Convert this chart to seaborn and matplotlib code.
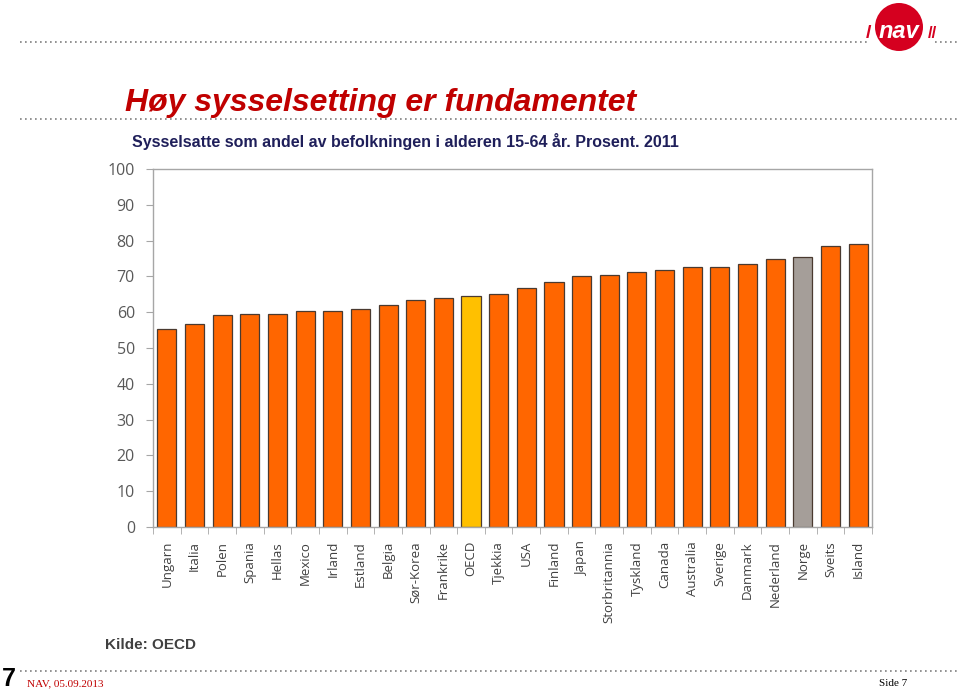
import matplotlib
matplotlib.use("Agg")
import matplotlib.pyplot as plt
import seaborn as sns
import pandas as pd
from matplotlib.patches import Circle
from matplotlib.lines import Line2D

countries = ["Ungarn", "Italia", "Polen", "Spania", "Hellas", "Mexico", "Irland",
             "Estland", "Belgia", "Sør-Korea", "Frankrike", "OECD", "Tjekkia", "USA",
             "Finland", "Japan", "Storbritannia", "Tyskland", "Canada", "Australia",
             "Sverige", "Danmark", "Nederland", "Norge", "Sveits", "Island"]
values = [55.3, 56.8, 59.2, 59.4, 59.5, 60.4, 60.4, 61.0, 62.0, 63.3, 64.0, 64.6,
          65.0, 66.7, 68.4, 70.2, 70.4, 71.2, 71.7, 72.5, 72.7, 73.4, 74.8, 75.4,
          78.6, 79.0]
yticks = [0, 10, 20, 30, 40, 50, 60, 70, 80, 90, 100]

ORANGE = "#FF6600"
colors = {c: ORANGE for c in countries}
colors["OECD"] = "#FFC000"
colors["Norge"] = "#A59E99"

df = pd.DataFrame({"land": countries, "verdi": values})

sns.set_style("white")
plt.rcParams["font.family"] = ["DejaVu Sans"]

fig = plt.figure(figsize=(9.6, 6.91), dpi=100)
ax = fig.add_axes([153/960, 1-527/691, (872-153)/960, (527-169)/691])

sns.barplot(data=df, x="land", y="verdi", hue="land", palette=colors, legend=False,
            width=0.69, edgecolor="#4A3A30", linewidth=0.9, ax=ax, saturation=1)

ax.set_ylim(0, 100)
ax.set_xlim(-0.5, len(countries) - 0.5)
ax.set_yticks(yticks)
ax.set_xlabel("")
ax.set_ylabel("")
for s in ax.spines.values():
    s.set_color("#A6A6A6")
    s.set_linewidth(1.0)
ax.tick_params(axis="y", which="both", left=True, length=5, color="#A6A6A6",
               labelsize=11.5, labelcolor="#595959", pad=8)
ax.set_xticks(range(len(countries)))
ax.set_xticklabels(countries, rotation=90, fontsize=9.5, color="#404040",
                   family=["Open Sans", "DejaVu Sans"], va="top")
ax.set_xticks([i + 0.5 for i in range(-1, len(countries))], minor=True)
ax.tick_params(axis="x", which="major", length=0, pad=10)
ax.tick_params(axis="x", which="minor", bottom=True, length=5, color="#A6A6A6")
for lbl in ax.get_yticklabels():
    lbl.set_family(["Open Sans", "DejaVu Sans"])

# Slide decorations
def dotted(y, x0, x1):
    fig.add_artist(Line2D([x0/960, x1/960], [1-y/691, 1-y/691], color="#7F7F7F",
                          linestyle=(0, (1, 2)), linewidth=1.2))

dotted(42, 20, 868)
dotted(42, 935, 960)
dotted(119, 20, 960)
dotted(671, 20, 960)

# logo
fig.add_artist(Circle((899, 691-27), 24, transform=None, facecolor="#D5001F",
                      edgecolor="none"))
fig.text(899/960, 1-32/691, "nav", ha="center", va="center", color="white",
         fontsize=17, fontweight="bold", style="italic", family="Liberation Sans")
fig.text(868/960, 1-34/691, "/", ha="center", va="center", color="#D5001F",
         fontsize=14, fontweight="bold", family="Liberation Sans")
fig.text(932/960, 1-34/691, "//", ha="center", va="center", color="#D5001F",
         fontsize=12, fontweight="bold", family="Liberation Sans")

fig.text(125/960, 1-103/691, "Høy sysselsetting er fundamentet", ha="left", va="center",
         color="#C00000", fontsize=23, fontweight="bold", style="italic",
         family=["Liberation Sans", "DejaVu Sans"])
fig.text(132/960, 1-142/691,
         "Sysselsatte som andel av befolkningen i alderen 15-64 år. Prosent. 2011",
         ha="left", va="center", color="#1F1F5A", fontsize=11.5, fontweight="bold",
         family=["Liberation Sans", "DejaVu Sans"])
fig.text(105/960, 1-645/691, "Kilde: OECD", ha="left", va="center", color="#404040",
         fontsize=11, fontweight="bold", family=["Liberation Sans", "DejaVu Sans"])
fig.text(2/960, 1-679/691, "7", ha="left", va="center", color="black",
         fontsize=18, fontweight="bold", family=["Liberation Sans", "DejaVu Sans"])
fig.text(27/960, 1-684/691, "NAV, 05.09.2013", ha="left", va="center", color="#C00000",
         fontsize=8, family=["Liberation Serif", "DejaVu Serif"])
fig.text(907/960, 1-684/691, "Side 7", ha="right", va="center", color="black",
         fontsize=8, family=["Liberation Serif", "DejaVu Serif"])

fig.savefig("out.png", dpi=100)
